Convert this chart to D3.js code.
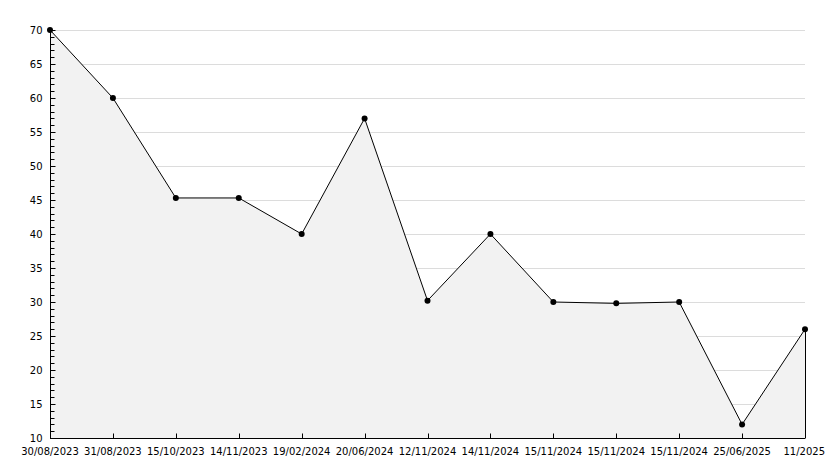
<!DOCTYPE html>
<html>
<head>
<meta charset="utf-8">
<script src="https://cdn.jsdelivr.net/npm/d3@7"></script>
<style>
  body { margin: 0; background: #fff; }
  text { font-family: "DejaVu Sans", sans-serif; font-size: 10px; fill: #000; }
</style>
</head>
<body>
<div id="chart"></div>
<script>
var width = 834, height = 468;
var margin = {top: 30, right: 29, bottom: 30, left: 50};

// data
var dates = ["30/08/2023", "31/08/2023", "15/10/2023", "14/11/2023", "19/02/2024",
  "20/06/2024", "12/11/2024", "14/11/2024", "15/11/2024", "15/11/2024b",
  "15/11/2024c", "25/06/2025", "11/2025"];
var values = [70, 60, 45.3, 45.3, 40, 57, 30.2, 40, 30, 29.8, 30, 12, 26];
var yTicks = [10, 15, 20, 25, 30, 35, 40, 45, 50, 55, 60, 65, 70];

var points = dates.map(function(d, i) { return {date: d, value: values[i]}; });

function labelOf(d) { return d.replace(/[bc]$/, ""); }

var svg = d3.select("#chart")
  .append("svg")
  .attr("width", width)
  .attr("height", height);

var x = d3.scalePoint()
  .domain(dates)
  .range([margin.left, width - margin.right]);

var y = d3.scaleLinear()
  .domain([10, 70])
  .range([height - margin.bottom, margin.top]);

// grid lines
svg.append("g")
  .selectAll("line")
  .data(yTicks.slice(1))
  .enter().append("line")
  .attr("x1", margin.left)
  .attr("x2", width - margin.right)
  .attr("y1", function(d) { return Math.round(y(d)) + 0.5; })
  .attr("y2", function(d) { return Math.round(y(d)) + 0.5; })
  .attr("stroke", "#dcdcdc");

// area under the line
var area = d3.area()
  .x(function(d) { return x(d.date); })
  .y0(y(10))
  .y1(function(d) { return y(d.value); });

svg.append("path")
  .datum(points)
  .attr("d", area)
  .attr("fill", "#f2f2f2");

// right edge of the area
var last = points[points.length - 1];
svg.append("line")
  .attr("x1", x(last.date) + 0.5)
  .attr("x2", x(last.date) + 0.5)
  .attr("y1", y(10))
  .attr("y2", y(last.value))
  .attr("stroke", "#000");

var line = d3.line()
  .x(function(d) { return x(d.date); })
  .y(function(d) { return y(d.value); });

svg.append("path")
  .datum(points)
  .attr("d", line)
  .attr("fill", "none")
  .attr("stroke", "#000")
  .attr("stroke-width", 1);

// markers
svg.append("g")
  .selectAll("circle")
  .data(points)
  .enter().append("circle")
  .attr("cx", function(d) { return x(d.date); })
  .attr("cy", function(d) { return y(d.value); })
  .attr("r", 3)
  .attr("fill", "#000");

// y axis
var yAxis = svg.append("g")
  .attr("transform", "translate(" + (margin.left + 0.5) + ",0)");

yAxis.append("line")
  .attr("y1", y(70))
  .attr("y2", y(10))
  .attr("stroke", "#000");

yAxis.selectAll(".minor")
  .data(d3.range(10, 71, 1))
  .enter().append("line")
  .attr("class", "minor")
  .attr("x1", 0)
  .attr("x2", function(d) { return d % 5 === 0 ? 5 : 4; })
  .attr("y1", function(d) { return Math.round(y(d)) + 0.5; })
  .attr("y2", function(d) { return Math.round(y(d)) + 0.5; })
  .attr("stroke", "#000");

yAxis.selectAll("text")
  .data(yTicks)
  .enter().append("text")
  .attr("x", -8)
  .attr("y", function(d) { return y(d); })
  .attr("dy", "0.35em")
  .attr("text-anchor", "end")
  .text(function(d) { return d; });

// x axis
var xAxis = svg.append("g")
  .attr("transform", "translate(0," + (y(10) + 0.5) + ")");

xAxis.append("line")
  .attr("x1", margin.left)
  .attr("x2", width - margin.right)
  .attr("stroke", "#000");

xAxis.selectAll(".tick")
  .data(dates)
  .enter().append("line")
  .attr("class", "tick")
  .attr("x1", function(d) { return Math.round(x(d)) + 0.5; })
  .attr("x2", function(d) { return Math.round(x(d)) + 0.5; })
  .attr("y1", 0)
  .attr("y2", -5)
  .attr("stroke", "#000");

xAxis.selectAll("text")
  .data(dates)
  .enter().append("text")
  .attr("x", function(d, i) { return i === dates.length - 1 ? width - 9 : x(d); })
  .attr("y", 16)
  .attr("text-anchor", function(d, i) { return i === dates.length - 1 ? "end" : "middle"; })
  .text(labelOf);
</script>
</body>
</html>
